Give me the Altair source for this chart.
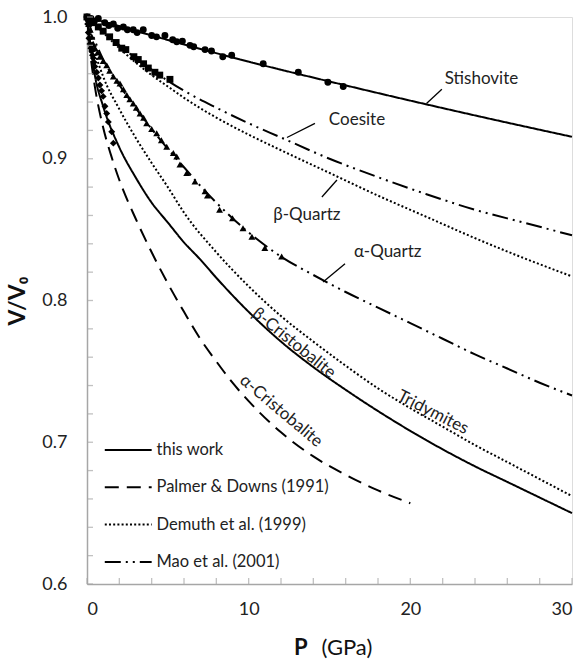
import altair as alt
import pandas as pd

# ---------------- equation-of-state curves: V/V0 against P (GPa) ----------------
stish_P = [0, 5, 10, 15, 20, 25, 30]
stish_V = [1.0, 0.9838, 0.9685, 0.9545, 0.9410, 0.9280, 0.9155]

coes_P = [0, 1, 2, 3, 4, 5, 6, 8, 10, 12, 15, 18, 21, 24, 27, 30]
coes_V = [1.0, 0.990, 0.980, 0.971, 0.963, 0.955, 0.948, 0.936, 0.925, 0.915, 0.900, 0.887, 0.875, 0.864, 0.855, 0.846]

bqtz_P = [0, 1, 2, 3, 4, 5, 6, 8, 10, 12, 15, 18, 21, 24, 27, 30]
bqtz_V = [1.0, 0.989, 0.978, 0.968, 0.959, 0.951, 0.943, 0.929, 0.917, 0.906, 0.890, 0.874, 0.859, 0.844, 0.830, 0.817]

aqtz_P = [0, 0.5, 1, 2, 3, 4, 5, 6, 7, 8, 9, 10, 12, 14, 16, 18, 20, 22, 24, 26, 28, 30]
aqtz_V = [1.0, 0.983, 0.970, 0.952, 0.936, 0.921, 0.907, 0.894, 0.881, 0.869, 0.858, 0.848, 0.831, 0.818, 0.806, 0.795, 0.784, 0.773, 0.762, 0.752, 0.742, 0.733]

trid_P = [0, 0.5, 1, 2, 3, 4, 5, 6, 8, 10, 12, 14, 16, 18, 20, 22, 24, 26, 28, 30]
trid_V = [1.0, 0.975, 0.958, 0.935, 0.915, 0.897, 0.880, 0.862, 0.834, 0.810, 0.789, 0.771, 0.754, 0.738, 0.724, 0.711, 0.698, 0.686, 0.674, 0.662]

bcri_P = [0, 0.5, 1, 2, 3, 4, 5, 6, 7, 8, 10, 12, 14, 16, 18, 20, 22, 24, 26, 28, 30]
bcri_V = [1.0, 0.958, 0.937, 0.908, 0.887, 0.869, 0.855, 0.841, 0.829, 0.816, 0.792, 0.771, 0.753, 0.737, 0.722, 0.708, 0.695, 0.683, 0.672, 0.661, 0.650]

acri_P = [0, 0.25, 0.5, 1, 1.5, 2, 3, 4, 5, 6, 7, 8, 9, 10, 12, 14, 16, 18, 20]
acri_V = [1.0, 0.970, 0.950, 0.922, 0.902, 0.885, 0.858, 0.834, 0.812, 0.792, 0.773, 0.757, 0.742, 0.729, 0.707, 0.690, 0.677, 0.666, 0.657]

curves = [
    ("Stishovite", "this work", stish_P, stish_V),
    ("Coesite", "Mao et al. (2001)", coes_P, coes_V),
    ("beta-Quartz", "Demuth et al. (1999)", bqtz_P, bqtz_V),
    ("alpha-Quartz", "Mao et al. (2001)", aqtz_P, aqtz_V),
    ("Tridymites", "Demuth et al. (1999)", trid_P, trid_V),
    ("beta-Cristobalite", "this work", bcri_P, bcri_V),
    ("alpha-Cristobalite", "Palmer & Downs (1991)", acri_P, acri_V),
]

# ---------------- measured points ----------------
circ_P = [0.0, 0.08, 0.25, 0.45, 0.7, 1.1, 1.35, 1.63, 1.9, 2.25, 2.5, 2.86, 3.1, 3.48, 4.0, 4.3,
          4.82, 5.3, 5.55, 5.9, 6.37, 6.6, 7.3, 7.7, 8.4, 8.95, 10.9, 13.07, 14.9, 15.85]
circ_V = [1.0, 0.998, 0.999, 0.997, 0.999, 0.996, 0.994, 0.995, 0.992, 0.993, 0.991, 0.991, 0.989,
          0.991, 0.987, 0.986, 0.987, 0.984, 0.9826, 0.983, 0.980, 0.979, 0.977, 0.976, 0.972, 0.973,
          0.967, 0.961, 0.954, 0.951]

sq_P = [0.0, 0.15, 0.4, 0.7, 1.0, 1.4, 1.8, 2.15, 2.4, 2.9, 3.17, 3.5, 3.79, 4.2, 4.5, 5.13]
sq_V = [1.0, 0.998, 0.996, 0.993, 0.990, 0.986, 0.982, 0.978, 0.977, 0.972, 0.970, 0.967, 0.964,
        0.961, 0.959, 0.956]

tri_P = [0.0, 0.1, 0.2, 0.3, 0.39, 0.5, 0.65, 0.8, 1.0, 1.22, 1.4, 1.63, 1.85, 2.04, 2.25, 2.46,
         2.65, 2.86, 3.05, 3.28, 3.5, 3.69, 4.0, 4.31, 4.6, 4.93, 5.34, 5.55, 5.75, 6.17, 6.68, 7.3,
         7.45, 8.2, 9.0, 9.65, 10.2, 11.0, 12.04]
tri_V = [1.0, 0.995, 0.991, 0.986, 0.981, 0.978, 0.975, 0.972, 0.969, 0.966, 0.962, 0.958, 0.955,
         0.953, 0.949, 0.945, 0.942, 0.939, 0.936, 0.932, 0.929, 0.925, 0.921, 0.918, 0.913, 0.9085,
         0.904, 0.9015, 0.896, 0.890, 0.884, 0.877, 0.874, 0.864, 0.858, 0.851, 0.845, 0.837, 0.831]

dia_P = [0.0, 0.04, 0.08, 0.12, 0.18, 0.24, 0.29, 0.34, 0.39, 0.44, 0.49, 0.6, 0.7, 0.8, 0.9, 1.0,
         1.11, 1.22, 1.32, 1.53, 1.63]
dia_V = [1.0, 0.995, 0.989, 0.985, 0.981, 0.978, 0.976, 0.973, 0.971, 0.968, 0.965, 0.961, 0.957,
         0.952, 0.948, 0.944, 0.937, 0.932, 0.926, 0.919, 0.911]

# ---------------- phase labels and their leader lines ----------------
lab_text = ["Stishovite", "Coesite", "β-Quartz", "α-Quartz", "β-Cristobalite", "α-Cristobalite", "Tridymites"]
lab_P = [24.4, 16.7, 13.6, 18.6, 12.8, 12.0, 21.4]
lab_V = [0.956, 0.927, 0.860, 0.834, 0.770, 0.722, 0.721]
lab_angle = [0, 0, 0, 0, 39, 40, 27]

lead_P1 = [21.0, 12.37, 14.53, 14.6]
lead_V1 = [0.939, 0.915, 0.873, 0.813]
lead_P2 = [21.95, 14.1, 15.46, 15.96]
lead_V2 = [0.949, 0.925, 0.885, 0.826]

sources = ["this work", "Palmer & Downs (1991)", "Demuth et al. (1999)", "Mao et al. (2001)"]
dashes = [[1, 0], [14, 8], [2, 2.2], [16, 5, 2, 5, 2, 5]]

x_ticks = list(range(0, 31, 2))
y_ticks = [round(0.6 + 0.02 * i, 2) for i in range(21)]

FONT = "Lato"
AXIS_GREY = "#a6a6a6"
W, H = 485, 567

rows = []
for phase, src, ps, vs in curves:
    for i, (p, v) in enumerate(zip(ps, vs)):
        rows.append({"phase": phase, "source": src, "P": p, "V": v, "i": i})
lines_df = pd.DataFrame(rows)

pts = []
for shape, ps, vs in [("circle", circ_P, circ_V), ("square", sq_P, sq_V),
                      ("triangle-up", tri_P, tri_V), ("diamond", dia_P, dia_V)]:
    for p, v in zip(ps, vs):
        pts.append({"shape": shape, "P": p, "V": v})
pts_df = pd.DataFrame(pts)

labels_df = pd.DataFrame({"text": lab_text, "P": lab_P, "V": lab_V, "angle": lab_angle})
leaders_df = pd.DataFrame({"P": lead_P1, "V": lead_V1, "P2": lead_P2, "V2": lead_V2})

x_scale = alt.Scale(domain=[0, 30], nice=False, zero=False)
y_scale = alt.Scale(domain=[0.6, 1.0], nice=False, zero=False)
dash_scale = alt.Scale(domain=sources, range=dashes)

x_enc = alt.X("P:Q", scale=x_scale,
              axis=alt.Axis(values=[0, 10, 20, 30], title=None, ticks=False, grid=False,
                            domainColor=AXIS_GREY, domainWidth=1.5, labelFont=FONT,
                            labelFontSize=18, labelColor="#222", labelPadding=16))
y_enc = alt.Y("V:Q", scale=y_scale,
              axis=alt.Axis(values=[0.6, 0.7, 0.8, 0.9, 1.0], format=".1f", title="V/V₀",
                            ticks=False, grid=False, domainColor=AXIS_GREY, domainWidth=1.5,
                            labelFont=FONT, labelFontSize=18, labelColor="#222",
                            labelPadding=20, titleFont=FONT, titleFontSize=23,
                            titleFontWeight="bold", titleColor="#111", titlePadding=12))

lines = alt.Chart(lines_df).mark_line(color="black", strokeWidth=2, interpolate="monotone").encode(
    x=x_enc, y=y_enc,
    strokeDash=alt.StrokeDash("source:N", scale=dash_scale, legend=None),
    detail="phase:N", order="i:Q")

points = alt.Chart(pts_df).mark_point(filled=True, color="black", opacity=1, size=48).encode(
    x="P:Q", y="V:Q",
    shape=alt.Shape("shape:N", scale=alt.Scale(domain=["circle", "square", "triangle-up", "diamond"],
                                               range=["circle", "square", "triangle-up", "diamond"]),
                    legend=None))

labels = alt.Chart(labels_df).mark_text(font=FONT, fontSize=17, color="#222", align="center",
                                        baseline="middle").encode(
    x="P:Q", y="V:Q", text="text:N", angle=alt.Angle("angle:Q", scale=None))

leaders = alt.Chart(leaders_df).mark_rule(color="black", strokeWidth=1.3).encode(
    x="P:Q", y="V:Q", x2="P2:Q", y2="V2:Q")

# inward-pointing tick marks on both axes
xt = alt.Chart(pd.DataFrame({"P": x_ticks})).mark_tick(orient="vertical", color=AXIS_GREY,
                                                      thickness=1.3, size=6).encode(
    x="P:Q", y=alt.value(H - 3))
yt = alt.Chart(pd.DataFrame({"V": y_ticks})).mark_tick(orient="horizontal", color=AXIS_GREY,
                                                      thickness=1.3, size=6).encode(
    y="V:Q", x=alt.value(3))

# legend drawn inside the plot, one row per source
leg_top, leg_step = 0.6945, 0.0263
leg_df = pd.DataFrame({"source": sources,
                       "V": [leg_top - leg_step * k for k in range(len(sources))]})
leg_df["P"] = 1.1
leg_df["P2"] = 4.0
leg_df["Pt"] = 4.3
leg_lines = alt.Chart(leg_df).mark_rule(color="black", strokeWidth=2).encode(
    x="P:Q", x2="P2:Q", y="V:Q",
    strokeDash=alt.StrokeDash("source:N", scale=dash_scale, legend=None))
leg_text = alt.Chart(leg_df).mark_text(font=FONT, fontSize=16.5, color="#222", align="left",
                                       baseline="middle").encode(
    x="Pt:Q", y="V:Q", text="source:N")

# x-axis title: bold P followed by the unit
xtitle_p = alt.Chart(pd.DataFrame({"t": ["P"]})).mark_text(
    font=FONT, fontSize=22, fontWeight="bold", color="#111", align="right", baseline="alphabetic"
).encode(x=alt.value(W / 2 - 22), y=alt.value(H + 71), text="t:N")
xtitle_u = alt.Chart(pd.DataFrame({"t": ["(GPa)"]})).mark_text(
    font=FONT, fontSize=22, color="#111", align="left", baseline="alphabetic"
).encode(x=alt.value(W / 2 - 8), y=alt.value(H + 71), text="t:N")

chart = alt.layer(lines, leg_lines, leaders, points, labels, leg_text, xt, yt,
                  xtitle_p, xtitle_u).properties(
    width=W, height=H,
    autosize=alt.AutoSizeParams(type="none"),
    padding={"left": 87, "top": 17, "right": 15, "bottom": 79},
).configure_view(stroke=None).configure(background="white")

chart.save("out.html", embed_options={"renderer": "svg", "actions": False})
